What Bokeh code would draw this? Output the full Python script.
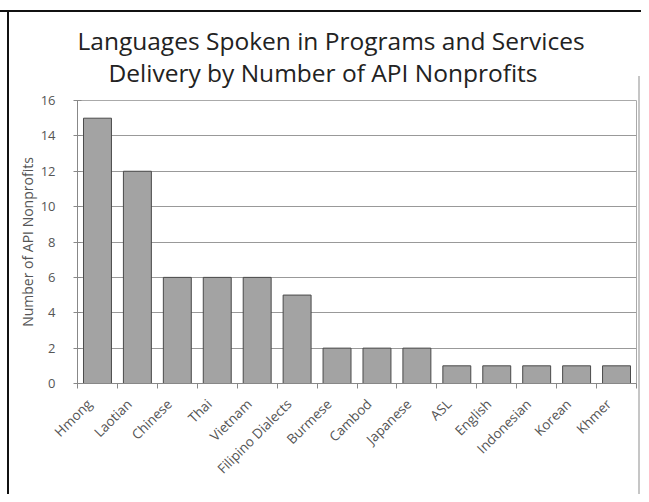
import math
from bokeh.plotting import figure
from bokeh.models import ColumnDataSource, FixedTicker, Range1d, Title
from bokeh.embed import file_html
from bokeh.resources import INLINE

title_lines = ["Languages Spoken in Programs and Services",
               "Delivery by Number of API Nonprofits"]
languages = ["Hmong", "Laotian", "Chinese", "Thai", "Vietnam", "Filipino Dialects",
             "Burmese", "Cambod", "Japanese", "ASL", "English", "Indonesian",
             "Korean", "Khmer"]
counts = [15, 12, 6, 6, 6, 5, 2, 2, 2, 1, 1, 1, 1, 1]
y_ticks = [0, 2, 4, 6, 8, 10, 12, 14, 16]

centers = [i + 0.5 for i in range(len(languages))]
label_pos = [c - 0.2 for c in centers]
bounds = [i for i in range(len(languages) + 1)]
src = ColumnDataSource(dict(x=centers, top=counts, name=languages))

FONT = "Open Sans"
W, H = 641, 494
p = figure(width=W, height=H, output_backend="svg", toolbar_location=None,
           x_range=Range1d(0, len(languages)), y_range=Range1d(0, 16),
           min_border_left=77, min_border_right=5, min_border_top=100,
           min_border_bottom=111)
p.title = None
p.border_fill_color = None
p.background_fill_color = "white"
p.styles = {
    "background-image": ("linear-gradient(#111111,#111111), "
                         "linear-gradient(#111111,#111111), "
                         "linear-gradient(#c6c6c6,#c6c6c6)"),
    "background-size": "100% 2px, 2px 100%, 2px 100%",
    "background-position": "0px 10px, 7px 10px, 638px 76px",
    "background-repeat": "no-repeat",
}

p.vbar(x="x", top="top", width=0.7, source=src, fill_color="#a3a3a3",
       line_color="#4a4a4a", line_width=1)

t2 = Title(text=title_lines[1], align="left", offset=31,
           text_font=FONT, text_font_size="24.5px", text_font_style="normal",
           text_color="#222222", standoff=24, text_line_height=0.8)
t1 = Title(text=title_lines[0], align="left", offset=0,
           text_font=FONT, text_font_size="24.5px", text_font_style="normal",
           text_color="#222222", standoff=-31, text_line_height=0.8)
p.add_layout(t2, "above")
p.add_layout(t1, "above")

p.xaxis.ticker = FixedTicker(ticks=label_pos, minor_ticks=bounds)
p.xaxis.major_label_overrides = {c: n for c, n in zip(label_pos, languages)}
p.xaxis.major_label_orientation = math.pi / 4
p.xaxis.major_tick_line_color = None
p.xaxis.minor_tick_out = 5
p.xaxis.minor_tick_in = 0
p.xaxis.minor_tick_line_color = "#888888"
p.xaxis.axis_line_color = "#888888"
p.xaxis.major_label_text_font = FONT
p.xaxis.major_label_text_font_size = "13.5px"
p.xaxis.major_label_text_color = "#555555"
p.xaxis.major_label_standoff = 12

p.yaxis.ticker = FixedTicker(ticks=y_ticks)
p.yaxis.axis_label = "Number of API Nonprofits"
p.yaxis.axis_label_text_font = FONT
p.yaxis.axis_label_text_font_size = "14px"
p.yaxis.axis_label_text_font_style = "normal"
p.yaxis.axis_label_text_color = "#555555"
p.yaxis.axis_label_standoff = 1
p.yaxis.major_label_text_font = FONT
p.yaxis.major_label_text_font_size = "13px"
p.yaxis.major_label_text_color = "#555555"
p.yaxis.major_label_standoff = 18
p.yaxis.major_tick_out = 4
p.yaxis.major_tick_in = 4
p.yaxis.minor_tick_line_color = None
p.yaxis.axis_line_color = "#888888"
p.yaxis.major_tick_line_color = "#888888"

p.xgrid.grid_line_color = None
p.ygrid.grid_line_color = "#999999"
p.ygrid.grid_line_width = 1
p.outline_line_color = "#aaaaaa"

open("out.html", "w").write(file_html(p, INLINE))
